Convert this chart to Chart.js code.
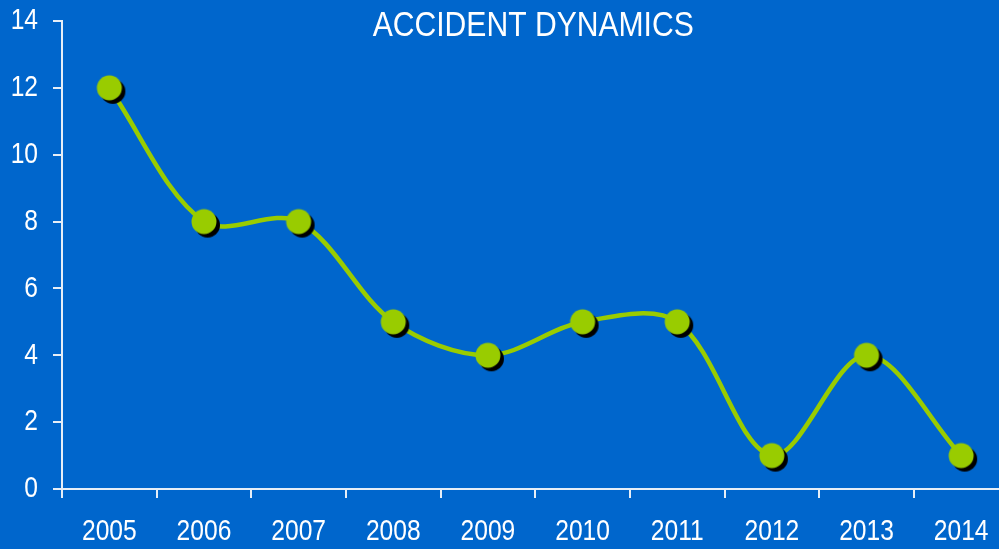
<!DOCTYPE html>
<html>
<head>
<meta charset="utf-8">
<script src="https://cdn.jsdelivr.net/npm/chart.js@4/dist/chart.umd.min.js"></script>
<style>
  html, body { margin: 0; padding: 0; background: #0066CC; overflow: hidden; }
  #wrap { width: 1025px; height: 549px; }
</style>
</head>
<body>
<div id="wrap"><canvas id="accidentChart" width="1025" height="549"></canvas></div>
<script>
  // Chart values
  const years = ['2005', '2006', '2007', '2008', '2009', '2010', '2011', '2012', '2013', '2014'];
  const accidents = [12, 8, 8, 5, 4, 5, 5, 1, 4, 1];
  const yTicks = [0, 2, 4, 6, 8, 10, 12, 14];
  const chartTitle = 'ACCIDENT DYNAMICS';

  const FONT = "'Liberation Sans', Arial, sans-serif";
  const GREEN = '#99CC00';
  const AXIS = '#E6EEF7';

  // marker: green dot with a hard black shadow to the lower right
  function makeMarker(r, off) {
    const size = 2 * (r + off + 1);
    const c = document.createElement('canvas');
    c.width = size;
    c.height = size;
    const g = c.getContext('2d');
    const mid = size / 2;
    g.fillStyle = '#000000';
    g.beginPath();
    g.arc(mid + off, mid + off, r, 0, Math.PI * 2);
    g.fill();
    g.fillStyle = GREEN;
    g.beginPath();
    g.arc(mid, mid, r, 0, Math.PI * 2);
    g.fill();
    return c;
  }
  const marker = makeMarker(12.5, 3.5);

  // narrow text: regular sans squeezed horizontally (no narrow font installed)
  function narrowText(c, text, x, y, size, squeeze, align) {
    c.save();
    c.font = size + 'px ' + FONT;
    c.textBaseline = 'middle';
    c.textAlign = align;
    c.translate(x, y);
    c.scale(squeeze, 1);
    c.fillText(text, 0, 0);
    c.restore();
  }

  // tick labels and title, placed from the chart's own scales
  const labelPlugin = {
    id: 'narrowLabels',
    afterDraw(chart) {
      const c = chart.ctx;
      const xs = chart.scales.x;
      const ys = chart.scales.y;
      const area = chart.chartArea;
      c.save();
      c.fillStyle = '#FFFFFF';
      xs.ticks.forEach((t, i) => {
        narrowText(c, xs.getLabelForValue(t.value), xs.getPixelForTick(i), area.bottom + 43, 30, 0.82, 'center');
      });
      ys.ticks.forEach(t => {
        narrowText(c, String(t.value), area.left - 24, ys.getPixelForValue(t.value), 30, 0.82, 'right');
      });
      narrowText(c, chartTitle, (area.left + area.right) / 2 - 2, area.top + 5, 35, 0.86, 'center');
      c.restore();
    }
  };

  const ctx = document.getElementById('accidentChart').getContext('2d');
  new Chart(ctx, {
    type: 'line',
    data: {
      labels: years,
      datasets: [{
        data: accidents,
        borderColor: GREEN,
        borderWidth: 4.5,
        tension: 0.33,
        pointStyle: marker,
        pointRadius: 12,
        pointHoverRadius: 12,
        fill: false
      }]
    },
    plugins: [labelPlugin],
    options: {
      responsive: false,
      animation: false,
      layout: { padding: { top: 21, left: 0, right: 2, bottom: 0 } },
      plugins: {
        legend: { display: false },
        tooltip: { enabled: false },
        title: { display: false }
      },
      scales: {
        x: {
          offset: true,
          afterFit(scale) { scale.height = 60; },
          grid: {
            offset: true,
            drawOnChartArea: false,
            drawTicks: true,
            tickLength: 9,
            color: AXIS,
            lineWidth: 2
          },
          border: { display: true, color: AXIS, width: 2 },
          ticks: { display: false }
        },
        y: {
          min: 0,
          max: 14,
          afterFit(scale) { scale.width = 62; },
          afterBuildTicks(axis) {
            axis.ticks = yTicks.map(v => ({ value: v }));
          },
          grid: {
            drawOnChartArea: false,
            drawTicks: true,
            tickLength: 9,
            color: AXIS,
            lineWidth: 2
          },
          border: { display: true, color: AXIS, width: 2 },
          ticks: { display: false }
        }
      }
    }
  });
</script>
</body>
</html>
